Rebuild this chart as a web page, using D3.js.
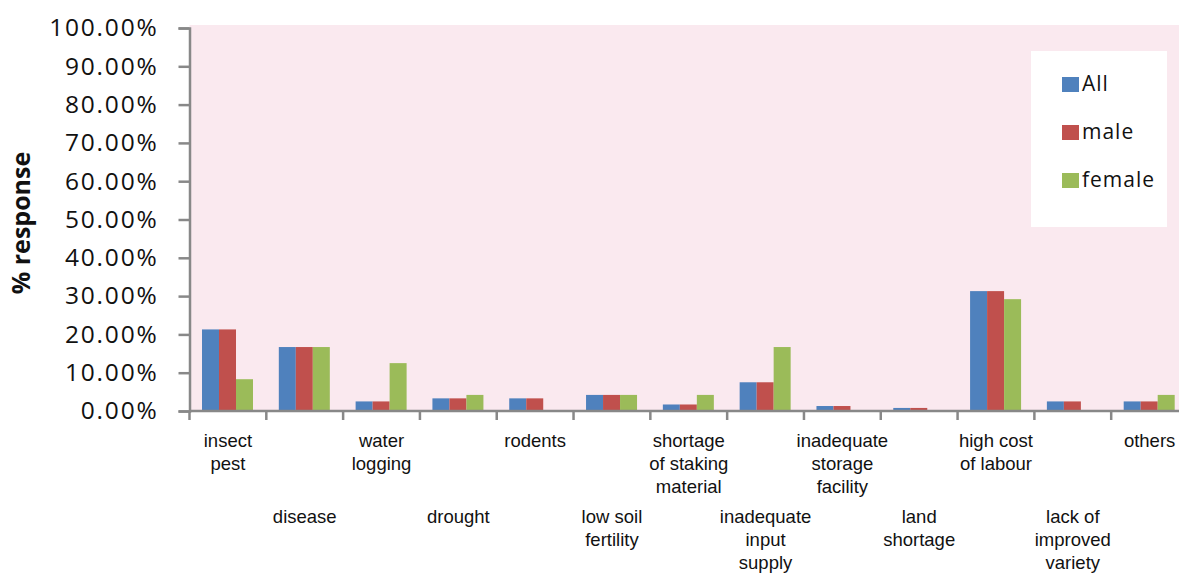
<!DOCTYPE html>
<html>
<head>
<meta charset="utf-8">
<script src="https://cdn.jsdelivr.net/npm/d3@7"></script>
<style>
  body { margin: 0; background: #fff; }
  svg { display: block; }
</style>
</head>
<body>
<svg class="chart"></svg>
<script>
// problem categories (labels split into lines)
var categories = [
  ["insect", "pest"],
  ["disease"],
  ["water", "logging"],
  ["drought"],
  ["rodents"],
  ["low soil", "fertility"],
  ["shortage", "of staking", "material"],
  ["inadequate", "input", "supply"],
  ["inadequate", "storage", "facility"],
  ["land", "shortage"],
  ["high cost", "of labour"],
  ["lack of", "improved", "variety"],
  ["others"]
];
var seriesNames = ["All", "male", "female"];
var allValues    = [0.213, 0.167, 0.025, 0.033, 0.033, 0.042, 0.017, 0.075, 0.013, 0.008, 0.313, 0.025, 0.025];
var maleValues   = [0.213, 0.167, 0.025, 0.033, 0.033, 0.042, 0.017, 0.075, 0.013, 0.008, 0.313, 0.025, 0.025];
var femaleValues = [0.083, 0.167, 0.125, 0.042, 0, 0.042, 0.042, 0.167, 0, 0, 0.292, 0, 0.042];
var yTicks = [0, 0.1, 0.2, 0.3, 0.4, 0.5, 0.6, 0.7, 0.8, 0.9, 1.0];

var colors = ["#4F81BD", "#C0504D", "#9BBB59"];
var values = [allValues, maleValues, femaleValues];

var width = 1179, height = 574;
var plotLeft = 189.5, plotRight = 1188, plotTop = 28, plotBottom = 411;

var svg = d3.select(".chart")
    .attr("width", width)
    .attr("height", height);

var keys = categories.map(function(d, i) { return i; });

var x = d3.scaleBand().domain(keys).range([plotLeft, plotRight]).padding(0);
var xs = d3.scaleBand().domain(seriesNames).range([12.5, 63.5]).padding(0);
var y = d3.scaleLinear().domain([0, 1]).range([plotBottom, plotTop]);

// plot background
svg.append("rect")
    .attr("x", plotLeft).attr("y", plotTop - 3)
    .attr("width", width - plotLeft).attr("height", plotBottom - plotTop + 3)
    .attr("fill", "#FAE9EF");

// legend box
var legend = svg.append("g");
legend.append("rect")
    .attr("x", 1031).attr("y", 51)
    .attr("width", 136).attr("height", 176)
    .attr("fill", "#fff");
seriesNames.forEach(function(s, i) {
  legend.append("rect")
      .attr("x", 1062).attr("y", 77 + i * 48)
      .attr("width", 17).attr("height", 15)
      .attr("fill", colors[i]);
  legend.append("text")
      .attr("x", 1082).attr("y", 91 + i * 48)
      .attr("font-family", "Open Sans")
      .attr("font-size", 21)
      .attr("letter-spacing", 1)
      .attr("fill", "#111")
      .text(s);
});

// bars
seriesNames.forEach(function(s, si) {
  svg.append("g").selectAll("rect")
      .data(values[si])
      .enter().append("rect")
      .attr("x", function(d, i) { return x(i) + xs(s); })
      .attr("y", function(d) { return y(d); })
      .attr("width", xs.bandwidth())
      .attr("height", function(d) { return plotBottom - y(d); })
      .attr("fill", colors[si]);
});

// y axis
var yAxis = svg.append("g")
    .attr("transform", "translate(" + plotLeft + ",0)")
    .call(d3.axisLeft(y).tickValues(yTicks).tickFormat(d3.format(".2%")).tickSize(11).tickPadding(20));
yAxis.select(".domain").attr("stroke", "#888").attr("stroke-width", 2.5);
yAxis.selectAll(".tick line").attr("stroke", "#888").attr("stroke-width", 2.5);
yAxis.selectAll(".tick text")
    .attr("font-family", "Open Sans")
    .attr("font-size", 24.5)
    .attr("letter-spacing", 1.8)
    .attr("fill", "#111");

// x axis line and boundary ticks
svg.append("line")
    .attr("x1", plotLeft).attr("x2", width)
    .attr("y1", plotBottom).attr("y2", plotBottom)
    .attr("stroke", "#888").attr("stroke-width", 2.5);
svg.append("g").selectAll("line")
    .data(keys.concat([keys.length]))
    .enter().append("line")
    .attr("x1", function(d) { return d < keys.length ? x(d) : plotRight; })
    .attr("x2", function(d) { return d < keys.length ? x(d) : plotRight; })
    .attr("y1", plotBottom).attr("y2", plotBottom + 9)
    .attr("stroke", "#888").attr("stroke-width", 2.5);

// category labels, staggered in two rows
var labels = svg.append("g")
    .attr("font-family", "Liberation Sans, Arial, sans-serif")
    .attr("font-size", 18.5)
    .attr("fill", "#111")
    .attr("text-anchor", "middle");
categories.forEach(function(lines, i) {
  var t = labels.append("text")
      .attr("transform", "translate(" + (x(i) + x.bandwidth() / 2) + "," + (i % 2 === 0 ? 447 : 523) + ")");
  lines.forEach(function(l, j) {
    t.append("tspan").attr("x", 0).attr("y", j * 23).text(l);
  });
});

// y axis title
svg.append("text")
    .attr("transform", "translate(30,223) rotate(-90)")
    .attr("text-anchor", "middle")
    .attr("font-family", "Open Sans")
    .attr("font-weight", "bold")
    .attr("font-size", 25)
    .attr("fill", "#111")
    .text("% response");
</script>
</body>
</html>
